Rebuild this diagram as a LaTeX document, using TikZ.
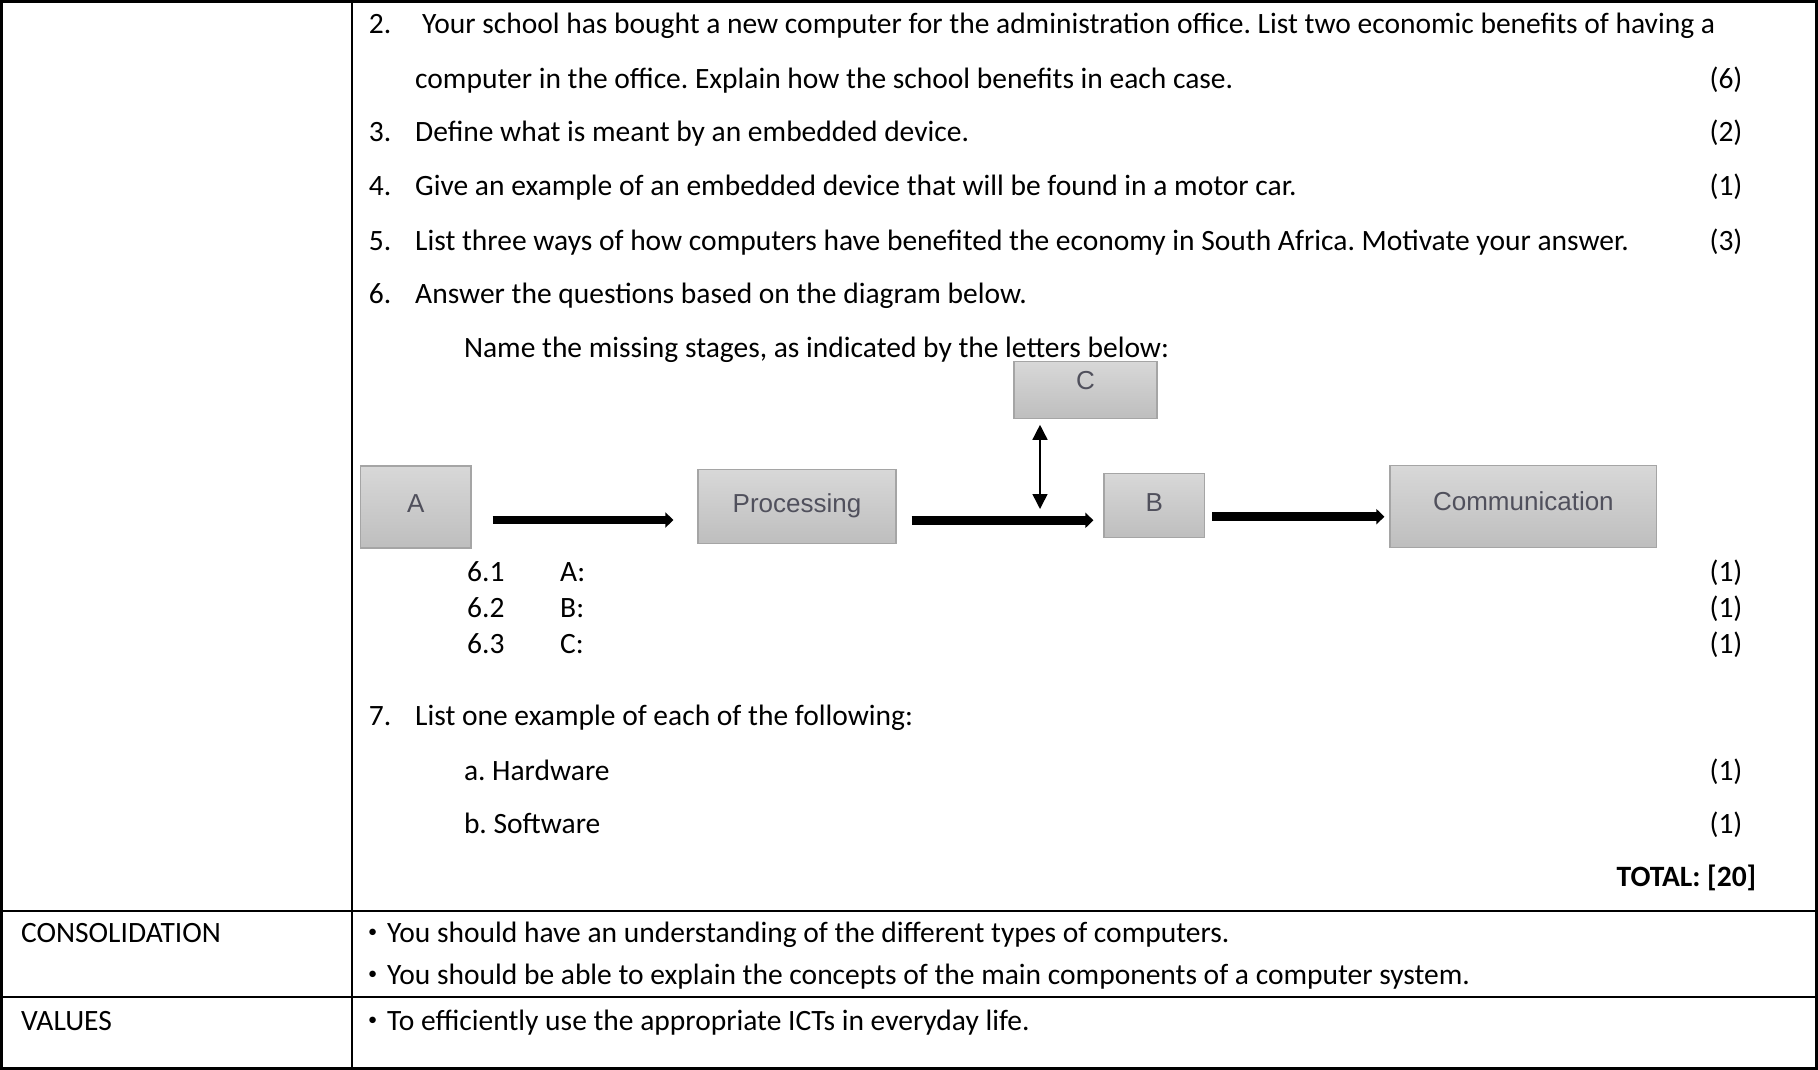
\documentclass[tikz,border=0pt]{standalone}
\usepackage{fontspec}
\setmainfont{Carlito}
\newfontfamily\boxfont{Liberation Sans}
\usetikzlibrary{arrows.meta}
\definecolor{boxtop}{RGB}{216,216,216}
\definecolor{boxbot}{RGB}{190,190,190}
\definecolor{boxline}{RGB}{165,165,165}
\definecolor{boxtext}{RGB}{80,80,92}
\newcommand\smbul{\makebox[21pt][l]{\hspace{2pt}\raisebox{5pt}{\scalebox{0.62}{•}}}}
\frenchspacing
\begin{document}
\begin{tikzpicture}[x=1pt,y=-1pt,
  txt/.style={anchor=base west, inner sep=0pt, font=\fontsize{29.5}{35}\selectfont},
  marktxt/.style={anchor=base east, inner sep=0pt, font=\fontsize{29.5}{35}\selectfont},
  stage/.style={draw=boxline, line width=1.2pt, top color=boxtop, bottom color=boxbot,
    text=boxtext, font=\boxfont\fontsize{26}{30}\selectfont, inner sep=0pt, text height=19pt},
  fat/.style={line width=8.5pt, -{Triangle[length=8pt,width=15pt]}},
  dbl/.style={line width=1.5pt, {Triangle[length=15pt,width=15pt]}-{Triangle[length=15pt,width=15pt]}},
  rule/.style={line width=2.6pt, line cap=rect}
]
\useasboundingbox (0,0) rectangle (1818,1070);
% table
\draw[rule] (1.3,1.3) rectangle (1816.7,1068.7);
\draw[rule] (352,1.3) -- (352,1068.7);
\draw[rule] (1.3,911) -- (1816.7,911);
\draw[rule] (1.3,997) -- (1816.7,997);

% questions
\node[txt] (n2) at (368.7,34) {2.};
\node[txt] (t2a) at (422,34) {Your school has bought a new computer for the administration office. List two economic benefits of having a};
\node[txt] (t2b) at (415,89) {computer in the office. Explain how the school benefits in each case.};
\node[marktxt] (m2) at (1742.6,89) {(6)};
\node[txt] (n3) at (368.7,142) {3.};
\node[txt] (t3) at (415,142) {Define what is meant by an embedded device.};
\node[marktxt] (m3) at (1742.6,142) {(2)};
\node[txt] (n4) at (368.7,195) {4.};
\node[txt] (t4) at (415,195) {Give an example of an embedded device that will be found in a motor car.};
\node[marktxt] (m4) at (1742.6,195) {(1)};
\node[txt] (n5) at (368.7,250) {5.};
\node[txt] (t5) at (415,250) {List three ways of how computers have benefited the economy in South Africa. Motivate your answer.};
\node[marktxt] (m5) at (1742.6,250) {(3)};
\node[txt] (n6) at (368.7,303) {6.};
\node[txt] (t6) at (415,303) {Answer the questions based on the diagram below.};
\node[txt] (t6n) at (463.8,357) {Name the missing stages, as indicated by the letters below:};

% diagram
\node[stage, minimum width=110.4pt, minimum height=82pt, text depth=8pt] (A) at (415.8,507) {A};
\node[stage, minimum width=198pt, minimum height=74pt, text depth=7pt] (P) at (797,506.5) {Processing};
\node[stage, minimum width=143pt, minimum height=57pt, text depth=20pt] (C) at (1085.5,389.7) {C};
\node[stage, minimum width=100.6pt, minimum height=64.4pt, text depth=6.4pt] (B) at (1154.3,505.5) {B};
\node[stage, minimum width=266.8pt, minimum height=82pt, text depth=11pt] (M) at (1523.4,506.5) {Communication};
\coordinate (ya) at (0,520);
\coordinate (yb) at (0,520.3);
\coordinate (yc) at (0,516.7);
\coordinate (dx) at (1040,0);
\draw[fat, shorten <=21pt, shorten >=24pt] (A.east |- ya) -- (P.west |- ya);
\draw[fat, shorten <=15pt, shorten >=10pt] (P.east |- yb) -- (B.west |- yb);
\draw[fat, shorten <=7pt, shorten >=5pt] (B.east |- yc) -- (M.west |- yc);
\draw[dbl, shorten <=6pt, shorten >=11pt] (C.south -| dx) -- (dx |- ya);

% sub questions
\node[txt] (n61) at (467,581) {6.1};
\node[txt] (t61) at (560,581) {A:};
\node[marktxt] (m61) at (1742.6,581) {(1)};
\node[txt] (n62) at (467,617) {6.2};
\node[txt] (t62) at (560,617) {B:};
\node[marktxt] (m62) at (1742.6,617) {(1)};
\node[txt] (n63) at (467,653) {6.3};
\node[txt] (t63) at (560,653) {C:};
\node[marktxt] (m63) at (1742.6,653) {(1)};
\node[txt] (n7) at (368.7,725) {7.};
\node[txt] (t7) at (415,725) {List one example of each of the following:};
\node[txt] (t7a) at (463.8,780) {a. Hardware};
\node[marktxt] (m7a) at (1742.6,780) {(1)};
\node[txt] (t7b) at (463.8,833) {b. Software};
\node[marktxt] (m7b) at (1742.6,833) {(1)};
\node[marktxt, font=\fontsize{29.5}{35}\selectfont\bfseries] (tot) at (1756.5,886) {TOTAL: [20]};

% lower rows
\node[txt] (cons) at (20.9,942) {CONSOLIDATION};
\node[txt] (c1) at (366,942) {\smbul You should have an understanding of the different types of computers.};
\node[txt] (c2) at (366,984) {\smbul You should be able to explain the concepts of the main components of a computer system.};
\node[txt] (val) at (20.9,1030) {VALUES};
\node[txt] (v1) at (366,1030) {\smbul To efficiently use the appropriate ICTs in everyday life.};
\end{tikzpicture}
\end{document}
